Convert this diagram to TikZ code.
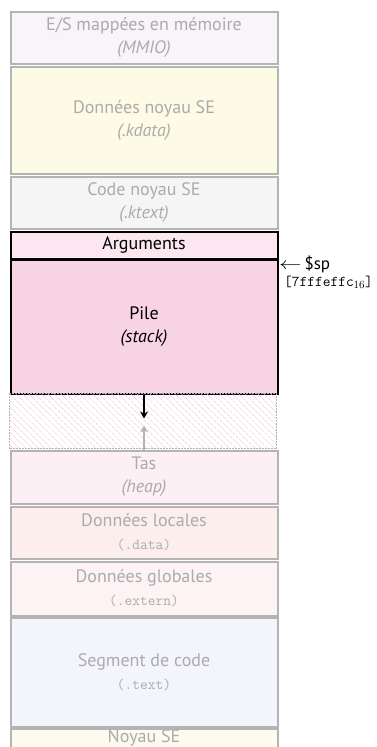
\documentclass[tikz,border=0pt]{standalone}
\usepackage{fontspec}
\setmainfont{PT Sans}
\usetikzlibrary{patterns.meta,arrows.meta}
\definecolor{fadedtxt}{HTML}{ABABAB}
\definecolor{fadeline}{HTML}{B4B4B4}
\definecolor{cmmio}{HTML}{F9F4F9}
\definecolor{ckdata}{HTML}{FDFBE5}
\definecolor{cktext}{HTML}{F5F5F5}
\definecolor{cargs}{HTML}{FCE6F0}
\definecolor{cpile}{HTML}{F8D3E4}
\definecolor{ctas}{HTML}{FCF0F5}
\definecolor{cloc}{HTML}{FDEEEE}
\definecolor{cglob}{HTML}{FDF3F4}
\definecolor{ccode}{HTML}{F4F5FC}
\definecolor{cnoyau}{HTML}{FEFAEE}
\definecolor{hatch}{HTML}{F2C8DF}
\tikzset{
  seg/.style={draw=fadeline, line width=2pt, anchor=north west, inner sep=0pt,
    minimum width=267pt, align=center, text=fadedtxt,
    font=\fontsize{18}{23}\selectfont},
  active/.style={seg, draw=black, text=black},
  addr/.style={font=\ttfamily\fontsize{15}{17}\selectfont},
}
\newcommand{\secname}[1]{{\ttfamily\fontsize{15}{17}\selectfont #1}}
\begin{document}
\begin{tikzpicture}[x=1pt,y=-1pt]
\useasboundingbox (0,0) rectangle (376,747);
% upper (kernel) segments
\node[seg, fill=cmmio, minimum height=52pt] (mmio) at (9.5,10.5)
  {E/S mappées en mémoire\\\textit{(MMIO)}};
\node[seg, fill=ckdata, minimum height=107pt] (kdata) at (9.5,65.5)
  {Données noyau SE\\\textit{(.kdata)}};
\node[seg, fill=cktext, minimum height=52.5pt] (ktext) at (9.5,175.5)
  {Code noyau SE\\\textit{(.ktext)}};
% stack area
\node[active, fill=cargs, minimum height=27pt] (args) at (9.5,230.5) {Arguments};
\node[active, fill=cpile, minimum height=134pt] (pile) at (9.5,258.5)
  {Pile\\\textit{(stack)}};
% free space between stack and heap
\node[seg, draw=fadeline, densely dotted, line width=1pt,
  pattern={Lines[angle=-45,distance=4.5pt,line width=0.5pt]},
  pattern color=hatch, minimum height=55pt] (free) at (9.5,393.5) {};
\node[seg, fill=ctas, minimum height=53pt] (tas) at (9.5,449.5)
  {Tas\\\textit{(heap)}};
% user data and code
\node[seg, fill=cloc, minimum height=52pt] (loc) at (9.5,505.5)
  {Données locales\\\secname{(.data)}};
\node[seg, fill=cglob, minimum height=54pt] (glob) at (9.5,560.5)
  {Données globales\\\secname{(.extern)}};
\node[seg, fill=ccode, minimum height=109pt] (code) at (9.5,616.5)
  {Segment de code\\\secname{(.text)}};
\node[seg, fill=cnoyau, minimum height=19pt] (noyau) at (9.5,727.5) {Noyau SE};
% growth arrows
\coordinate (sdown) at ([yshift=-24pt]pile.south);
\coordinate (hup) at ([yshift=24pt]tas.north);
\draw[line width=2pt, -{Stealth[length=7pt,width=8pt]}] (pile.south) -- (sdown);
\draw[line width=2pt, fadeline, -{Stealth[length=7pt,width=8pt]}] (tas.north) -- (hup);
% stack pointer
\node[anchor=west, inner sep=0pt, font=\fontsize{17}{19}\selectfont] (sp) at (279,264.5)
  {\scalebox{1.3}[1]{$\leftarrow$}\,\$sp};
\node[anchor=north west, inner sep=0pt, addr] (spaddr) at (284,276)
  {[7fffeffc$_{16}$]};
\end{tikzpicture}
\end{document}
